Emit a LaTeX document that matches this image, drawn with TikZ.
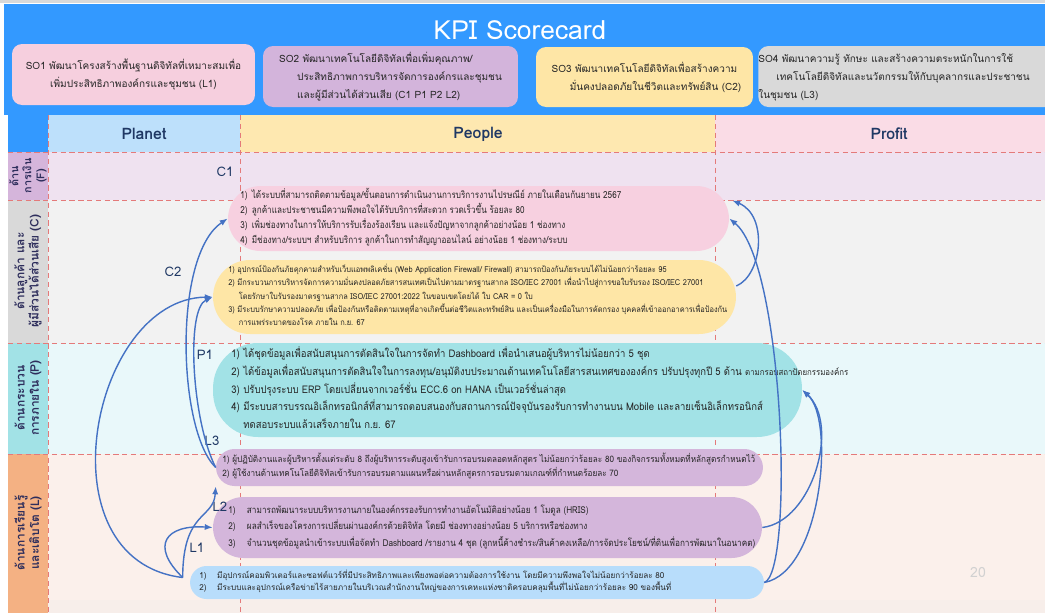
\documentclass[tikz,border=0pt]{standalone}
\usepackage{fontspec}
\setmainfont{Loma}[Script=Thai]
\usetikzlibrary{calc,arrows.meta}

\definecolor{bandblue}{HTML}{3399FF}
\definecolor{navy}{HTML}{1F3864}
\definecolor{sidetxt}{HTML}{2E2E5C}
\definecolor{linkblue}{HTML}{4472C4}
\definecolor{gridred}{HTML}{E47A7A}
\definecolor{sopink}{HTML}{F6CFDE}
\definecolor{sopurple}{HTML}{D3B4DB}
\definecolor{soyellow}{HTML}{FEE6A6}
\definecolor{sogrey}{HTML}{D9D9D9}
\definecolor{planetbg}{HTML}{BDE0FB}
\definecolor{peoplebg}{HTML}{FEE8B0}
\definecolor{profitbg}{HTML}{FADCE6}
\definecolor{fbg}{HTML}{EFE2F0}
\definecolor{cbg}{HTML}{F2F2F2}
\definecolor{pbg}{HTML}{E9F8FA}
\definecolor{lbg}{HTML}{FBF0EB}
\definecolor{lbgb}{HTML}{F7EEEA}
\definecolor{fside}{HTML}{D5B5DB}
\definecolor{cside}{HTML}{D9D9D9}
\definecolor{pside}{HTML}{A2E2E6}
\definecolor{lside}{HTML}{F4B183}
\definecolor{boxpink}{HTML}{F7D0E0}
\definecolor{boxyellow}{HTML}{FEE6A6}
\definecolor{boxcyan}{HTML}{A2E2E6}
\definecolor{boxpurple}{HTML}{D4B6DB}
\definecolor{boxblue}{HTML}{B8DDFB}

\newcommand{\numbox}[2]{\makebox[#1][l]{#2}}
\newcommand{\fitlines}[3]{\resizebox*{#1}{#2}{\begin{tabular}{@{}l@{}}#3\end{tabular}}}

\begin{document}
\begin{tikzpicture}[x=0.02cm,y=-0.02cm,
  kpi/.style={rounded corners=#1, inner sep=0pt},
  so/.style={rounded corners=0.2cm, inner sep=0pt, align=center, text=black!85,
    font=\fontsize{5.7}{10.2}\selectfont},
  txt/.style={anchor=west, align=left, inner sep=0pt, text=black!85},
  tag/.style={text=navy, font=\fontsize{7.5}{8}\selectfont},
  head/.style={text=navy, font=\bfseries\fontsize{9}{10}\selectfont},
  side/.style={rotate=90, align=center, text=sidetxt, font=\bfseries\fontsize{6.8}{8.2}\selectfont},
  grid/.style={draw=gridred, densely dashed, line width=0.4pt},
  link/.style={draw=linkblue, line width=0.8pt, -{Latex[length=4.5pt,width=3.5pt]}}]

\useasboundingbox (0,0) rectangle (1045,613);
\fill[white] (0,0) rectangle (1045,613);
\fill[black!15] (0,0) rectangle (1045,3);

% title band and strategic objectives
\fill[bandblue] (4,4) rectangle (1045,115);
\node[text=white, font=\fontsize{15}{17}\selectfont] (title) at (520,30) {KPI Scorecard};

\node[so, fill=sopink, minimum width=4.86cm, minimum height=1.22cm] (so1) at (133.5,74.5)
  {SO1 พัฒนาโครงสร้างพื้นฐานดิจิทัลที่เหมาะสมเพื่อ\\เพิ่มประสิทธิภาพองค์กรและชุมชน (L1)};
\node[so, fill=sopurple, minimum width=5.1cm, minimum height=1.22cm] (so2) at (390.5,76.5)
  {\begin{tabular}{@{}l@{}}SO2 พัฒนาเทคโนโลยีดิจิทัลเพื่อเพิ่มคุณภาพ/\\
   \hspace{1.8em}ประสิทธิภาพการบริหารจัดการองค์กรและชุมชน\\
   \hspace{1.8em}และผู้มีส่วนได้ส่วนเสีย (C1 P1 P2 L2)\end{tabular}};
\node[so, fill=soyellow, minimum width=4.34cm, minimum height=1.2cm] (so3) at (644.5,77)
  {SO3 พัฒนาเทคโนโลยีดิจิทัลเพื่อสร้างความ\\\hspace{2.2em}มั่นคงปลอดภัยในชีวิตและทรัพย์สิน (C2)};
\begin{scope}
  \clip (0,0) rectangle (1045,613);
  \node[so, fill=sogrey, minimum width=5.94cm, minimum height=1.22cm] (so4) at (911.5,76.5)
    {\begin{tabular}{@{}l@{}}SO4 พัฒนาความรู้ ทักษะ และสร้างความตระหนักในการใช้\\
     \hspace{1.8em}เทคโนโลยีดิจิทัลและนวัตกรรมให้กับบุคลากรและประชาชน\\
     ในชุมชน (L3)\end{tabular}\hspace{0.7cm}};
\end{scope}

% table header and rows
\fill[bandblue] (8,115) rectangle (48,152);
\fill[planetbg] (48,115) rectangle (240,152);
\fill[peoplebg] (240,115) rectangle (715,152);
\fill[profitbg] (715,115) rectangle (1045,152);
\fill[fside] (8,152) rectangle (48,200);
\fill[fbg] (48,152) rectangle (1045,200);
\fill[cside] (8,200) rectangle (48,343);
\fill[cbg] (48,200) rectangle (1045,343);
\fill[pside] (8,343) rectangle (48,454);
\fill[pbg] (48,343) rectangle (1045,454);
\fill[lside] (8,454) rectangle (48,613);
\fill[lbg] (48,454) rectangle (1045,600);
\fill[lbgb] (48,600) rectangle (1045,613);

\draw[grid] (48,115) -- (48,613);
\draw[grid] (240,115) -- (240,613);
\draw[grid] (715,115) -- (715,613);
\draw[grid] (8,152) -- (1045,152);
\draw[grid] (8,200) -- (1045,200);
\draw[grid] (8,343) -- (1045,343);
\draw[grid] (8,454) -- (1045,454);

\node[head] (planet) at (144,134) {Planet};
\node[head] (people) at (478,134) {People};
\node[head] (profit) at (889,134) {Profit};

\node[side, font=\bfseries\fontsize{6.2}{7.4}\selectfont] (fpersp) at (28,176) {ด้าน\\การเงิน\\(F)};
\node[side] (cpersp) at (28,271) {ด้านลูกค้า และ\\ผู้มีส่วนได้ส่วนเสีย (C)};
\node[side] (ppersp) at (28,398) {ด้านกระบวน\\การภายใน (P)};
\node[side] (lpersp) at (28,533) {ด้านการเรียนรู้\\และเติบโต (L)};

% KPI groups
\node[kpi=0.65cm, fill=boxpink, minimum width=10.02cm, minimum height=1.3cm] (c1) at (478.5,218.5) {};
\node[txt, font=\fontsize{6}{9.3}\selectfont] (c1t) at (240,218)
  {\fitlines{7.62cm}{1.2cm}{\numbox{8.5pt}{1)}ได้ระบบที่สามารถติดตามข้อมูล/ขั้นตอนการดำเนินงานการบริการงานไปรษณีย์ ภายในเดือนกันยายน 2567\\
   \numbox{8.5pt}{2)}ลูกค้าและประชาชนมีความพึงพอใจได้รับบริการที่สะดวก รวดเร็วขึ้น ร้อยละ 80\\
   \numbox{8.5pt}{3)}เพิ่มช่องทางในการให้บริการรับเรื่องร้องเรียน และแจ้งปัญหาจากลูกค้าอย่างน้อย 1 ช่องทาง\\
   \numbox{8.5pt}{4)}มีช่องทาง/ระบบฯ สำหรับบริการ ลูกค้าในการทำสัญญาออนไลน์ อย่างน้อย 1 ช่องทาง/ระบบ}};

\node[kpi=0.74cm, fill=boxyellow, minimum width=10.46cm, minimum height=1.48cm] (c2) at (474.5,297) {};
\node[txt, font=\fontsize{5}{8.1}\selectfont] (c2t) at (228,296.5)
  {\fitlines{9.98cm}{1.32cm}{1) อุปกรณ์ป้องกันภัยคุกคามสำหรับเว็บแอพพลิเคชั่น (Web Application Firewall/ Firewall) สามารถป้องกันภัยระบบได้ไม่น้อยกว่าร้อยละ 95\\
   2) มีกระบวนการบริหารจัดการความมั่นคงปลอดภัยสารสนเทศเป็นไปตามมาตรฐานสากล ISO/IEC 27001 เพื่อนำไปสู่การขอใบรับรอง ISO/IEC 27001\\
   \hspace{1.4em}โดยรักษาใบรับรองมาตรฐานสากล ISO/IEC 27001:2022 ในขอบเขตโดยได้ ใบ CAR = 0 ใบ\\
   3) มีระบบรักษาความปลอดภัย เพื่อป้องกันหรือติดตามเหตุที่อาจเกิดขึ้นต่อชีวิตและทรัพย์สิน และเป็นเครื่องมือในการคัดกรอง บุคคลที่เข้าออกอาคารเพื่อป้องกัน\\
   \hspace{1.4em}การแพร่ระบาดของโรค ภายใน ก.ย. 67}};

\node[kpi=0.9cm, fill=boxcyan, minimum width=11.78cm, minimum height=1.88cm] (p1) at (507.5,390) {};
\node[txt, font=\fontsize{6.3}{10.5}\selectfont] (p1t) at (231,389.5)
  {\fitlines{12.34cm}{1.76cm}{\numbox{8pt}{1)}ได้ชุดข้อมูลเพื่อสนับสนุนการตัดสินใจในการจัดทำ Dashboard เพื่อนำเสนอผู้บริหารไม่น้อยกว่า 5 ชุด\\
   \numbox{8pt}{2)}ได้ข้อมูลเพื่อสนับสนุนการตัดสินใจในการลงทุน/อนุมัติงบประมาณด้านเทคโนโลยีสารสนเทศขององค์กร ปรับปรุงทุกปี 5 ด้าน {\fontsize{5.2}{10.5}\selectfont ตามกรอบสถาปัตยกรรมองค์กร}\\
   \numbox{8pt}{3)}ปรับปรุงระบบ ERP โดยเปลี่ยนจากเวอร์ชั่น ECC.6 on HANA เป็นเวอร์ชั่นล่าสุด\\
   \numbox{8pt}{4)}มีระบบสารบรรณอิเล็กทรอนิกส์ที่สามารถตอบสนองกับสถานการณ์ปัจจุบันรองรับการทำงานบน Mobile และลายเซ็นอิเล็กทรอนิกส์\\
   \numbox{8pt}{}ทดสอบระบบแล้วเสร็จภายใน ก.ย. 67}};

\node[kpi=0.37cm, fill=boxpurple, minimum width=10.94cm, minimum height=0.74cm] (l3) at (489.5,467.5) {};
\node[txt, font=\fontsize{5.1}{8}\selectfont] (l3t) at (222,466.5)
  {\fitlines{10.66cm}{0.56cm}{1) ผู้ปฏิบัติงานและผู้บริหารตั้งแต่ระดับ 8 ถึงผู้บริหารระดับสูงเข้ารับการอบรมตลอดหลักสูตร ไม่น้อยกว่าร้อยละ 80 ของกิจกรรมทั้งหมดที่หลักสูตรกำหนดไว้\\
   2) ผู้ใช้งานด้านเทคโนโลยีดิจิทัลเข้ารับการอบรมตามแผนหรือผ่านหลักสูตรการอบรมตามเกณฑ์ที่กำหนดร้อยละ 70}};

\node[kpi=0.61cm, fill=boxpurple, minimum width=10.98cm, minimum height=1.22cm] (l2) at (487.5,527.5) {};
\node[txt, font=\fontsize{5.5}{9.5}\selectfont] (l2t) at (228,526.5)
  {\fitlines{10.54cm}{0.98cm}{\numbox{12.5pt}{1)}สามารถพัฒนาระบบบริหารงานภายในองค์กรรองรับการทำงานอัตโนมัติอย่างน้อย 1 โมดูล (HRIS)\\
   \numbox{12.5pt}{2)}ผลสำเร็จของโครงการเปลี่ยนผ่านองค์กรด้วยดิจิทัล โดยมี ช่องทางอย่างน้อย 5 บริการหรือช่องทาง\\
   \numbox{12.5pt}{3)}จำนวนชุดข้อมูลนำเข้าระบบเพื่อจัดทำ Dashboard /รายงาน 4 ชุด (ลูกหนี้ค้างชำระ/สินค้าคงเหลือ/การจัดประโยชน์/ที่ดินเพื่อการพัฒนาในอนาคต)}};

\node[kpi=0.33cm, fill=boxblue, minimum width=11.48cm, minimum height=0.66cm] (l1) at (477,582.5) {};
\node[txt, font=\fontsize{5}{7.6}\selectfont] (l1t) at (199,582)
  {\fitlines{9.44cm}{0.5cm}{\numbox{11pt}{1)}มีอุปกรณ์คอมพิวเตอร์และซอฟต์แวร์ที่มีประสิทธิภาพและเพียงพอต่อความต้องการใช้งาน โดยมีความพึงพอใจไม่น้อยกว่าร้อยละ 80\\
   \numbox{11pt}{2)}มีระบบและอุปกรณ์เครือข่ายไร้สายภายในบริเวณสำนักงานใหญ่ของการเคหะแห่งชาติครอบคลุมพื้นที่ไม่น้อยกว่าร้อยละ 90 ของพื้นที่}};

% tags
\node[tag] (tc1) at (225,172) {C1};
\node[tag] (tc2) at (173,272) {C2};
\node[tag] (tp1) at (205,355) {P1};
\node[tag] (tl3) at (212,441) {L3};
\node[tag] (tl2) at (220,507) {L2};
\node[tag] (tl1) at (197,548) {L1};

\node[text=black!18, font=\fontsize{8}{9}\selectfont] (pageno) at (978,572) {20};

% links on the right
\draw[link] ($(c2.east)+(0,-11)$) .. controls +(26,-11) and +(36,15) .. ($(c1.east)+(3,-18)$);
\draw[link] (l1.east) .. controls +(30,-10) and +(55,45) .. (c1.east);
\draw[link] (l1.east) .. controls +(58,-11) and +(33,29) .. (p1.east);
\draw[link] (l2.east) .. controls +(50,-6) and +(38,35) .. (p1.east);

% links on the left
\draw[link] ($(l1.west)+(-7,-5)$) .. controls +(-143,-17) and +(-122,2) .. (c2.west);
\draw[link] ($(l1.west)+(-7,-5)$) .. controls +(-33,-32) and +(-47,-3) .. (l2.west);
\draw[link] ($(l1.west)+(-7,-5)$) .. controls +(0,-67) and +(-2,33) .. (l3.south west);
\draw[link] (l3.west) .. controls +(-38,-37) and +(-55,37) .. (c1.west);
\draw[link] (l3.west) .. controls +(-24,-47) and +(-27,12) .. (c2.west);
\end{tikzpicture}
\end{document}
